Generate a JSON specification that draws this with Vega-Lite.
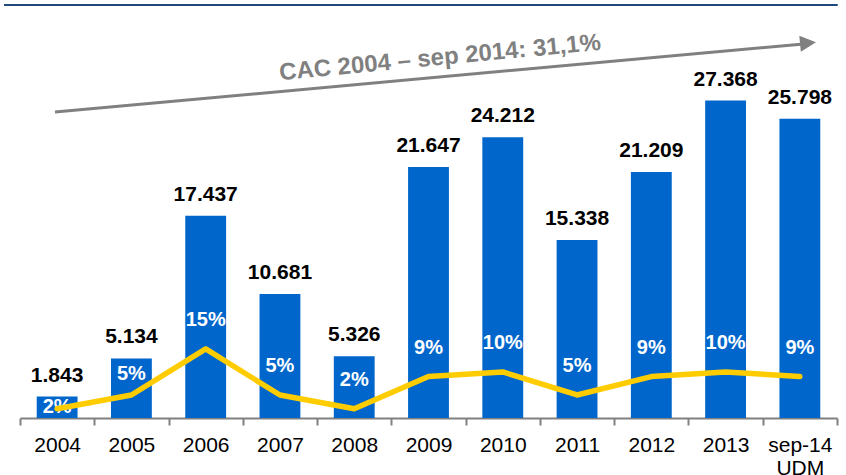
{
  "$schema": "https://vega.github.io/schema/vega-lite/v6.json",
  "width": 817,
  "height": 348,
  "autosize": {"type": "none"},
  "padding": {"left": 20, "top": 70, "right": 9, "bottom": 57},
  "config": {
    "view": {"stroke": null},
    "font": "Liberation Sans",
    "locale": {"number": {"decimal": ",", "thousands": ".", "grouping": [3], "currency": ["", " €"]}}
  },
  "datasets": {
    "main": [
      {"year": "2004", "value": 1843, "pct": 0.02},
      {"year": "2005", "value": 5134, "pct": 0.05},
      {"year": "2006", "value": 17437, "pct": 0.15},
      {"year": "2007", "value": 10681, "pct": 0.05},
      {"year": "2008", "value": 5326, "pct": 0.02},
      {"year": "2009", "value": 21647, "pct": 0.09},
      {"year": "2010", "value": 24212, "pct": 0.10},
      {"year": "2011", "value": 15338, "pct": 0.05},
      {"year": "2012", "value": 21209, "pct": 0.09},
      {"year": "2013", "value": 27368, "pct": 0.10},
      {"year": "sep-14", "value": 25798, "pct": 0.09}
    ],
    "arrow": [{"ax": 0.471, "ay": 26379, "ax2": 10.55, "ay2": 32250}],
    "head": [{"ax": 10.61, "ay": 32330}],
    "note": [{"ax": 5.655, "ay": 31034, "label": "CAC 2004 – sep 2014: 31,1%"}],
    "topline": [{"ax": -0.215, "ax2": 11.01, "ay": 35600}]
  },
  "layer": [
    {
      "data": {"name": "main"},
      "encoding": {
        "x": {
          "field": "year", "type": "nominal", "sort": null,
          "scale": {"domain": ["2004", "2005", "2006", "2007", "2008", "2009", "2010", "2011", "2012", "2013", "sep-14"], "paddingInner": 0, "paddingOuter": 0},
          "axis": {
            "title": null, "labelAngle": 0, "labelFontSize": 21, "labelColor": "#000000",
            "labelFont": "Liberation Sans", "labelPadding": 9, "labelLineHeight": 23,
            "domainColor": "#808080", "domainWidth": 2, "tickColor": "#808080", "tickWidth": 2,
            "tickSize": 7, "tickBand": "extent",
            "labelExpr": "datum.value == 'sep-14' ? ['sep-14', 'UDM'] : datum.value"
          }
        },
        "y": {"field": "value", "type": "quantitative", "scale": {"domain": [0, 30000], "nice": false}, "axis": null}
      },
      "layer": [
        {"mark": {"type": "bar", "color": "#0066CC", "width": {"band": 0.55}}},
        {"mark": {"type": "text", "fontSize": 21, "fontWeight": "bold", "color": "#000000", "baseline": "alphabetic", "dy": -15},
         "encoding": {"text": {"field": "value", "type": "quantitative", "format": ",d"}}}
      ]
    },
    {
      "data": {"name": "main"},
      "encoding": {
        "x": {"field": "year", "type": "nominal", "sort": null,
              "scale": {"domain": ["2004", "2005", "2006", "2007", "2008", "2009", "2010", "2011", "2012", "2013", "sep-14"], "paddingInner": 0, "paddingOuter": 0},
              "axis": null},
        "y": {"field": "pct", "type": "quantitative", "scale": {"domain": [0, 0.756], "nice": false}, "axis": null},
        "text": {"field": "pct", "type": "quantitative", "format": ".0%"}
      },
      "layer": [
        {"transform": [{"filter": "datum.year != '2004' && datum.year != '2005'"}],
         "mark": {"type": "text", "fontSize": 20, "fontWeight": "bold", "color": "#FFFFFF", "baseline": "middle", "dy": -29}},
        {"transform": [{"filter": "datum.year == '2005'"}],
         "mark": {"type": "text", "fontSize": 20, "fontWeight": "bold", "color": "#FFFFFF", "baseline": "middle", "dy": -21}},
        {"transform": [{"filter": "datum.year == '2004'"}],
         "mark": {"type": "text", "fontSize": 20, "fontWeight": "bold", "color": "#FFFFFF", "baseline": "middle", "dy": -2}},
        {"mark": {"type": "line", "color": "#FFCC00", "strokeWidth": 5.5, "strokeCap": "round", "strokeJoin": "round"},
         "encoding": {"text": null}}
      ]
    },
    {
      "layer": [
        {
          "data": {"name": "topline"},
          "mark": {"type": "rule", "color": "#1F497D", "strokeWidth": 2},
          "encoding": {
            "x": {"field": "ax", "type": "quantitative", "scale": {"domain": [0, 11], "nice": false, "zero": false}, "axis": null},
            "x2": {"field": "ax2"},
            "y": {"field": "ay", "type": "quantitative", "scale": {"domain": [0, 30000], "nice": false}, "axis": null}
          }
        },
        {
          "data": {"name": "arrow"},
          "mark": {"type": "rule", "color": "#808080", "strokeWidth": 3},
          "encoding": {
            "x": {"field": "ax", "type": "quantitative"},
            "x2": {"field": "ax2"},
            "y": {"field": "ay", "type": "quantitative"},
            "y2": {"field": "ay2"}
          }
        },
        {
          "data": {"name": "head"},
          "mark": {"type": "point", "shape": "M-1,-1L1,0L-1,1Z", "filled": true, "size": 256, "angle": -5.4, "color": "#808080", "opacity": 1},
          "encoding": {
            "x": {"field": "ax", "type": "quantitative"},
            "y": {"field": "ay", "type": "quantitative"}
          }
        },
        {
          "data": {"name": "note"},
          "mark": {"type": "text", "font": "Liberation Sans", "fontSize": 24, "fontWeight": "bold", "color": "#808080", "angle": -5.4, "align": "center", "baseline": "middle"},
          "encoding": {
            "x": {"field": "ax", "type": "quantitative"},
            "y": {"field": "ay", "type": "quantitative"},
            "text": {"field": "label"}
          }
        }
      ]
    }
  ],
  "resolve": {"scale": {"x": "independent", "y": "independent"}}
}
